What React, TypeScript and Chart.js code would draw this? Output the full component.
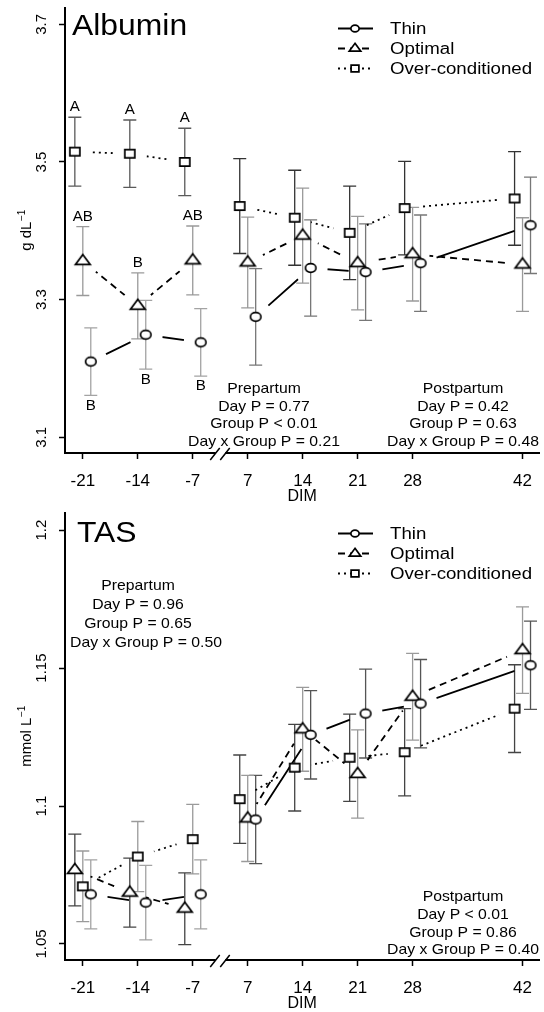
import React, { useEffect, useRef } from 'react';
import { Chart, registerables } from 'chart.js';

Chart.register(...registerables);

// ---------------- data ----------------
const DAYS = ['-21', '-14', '-7', '7', '14', '21', '28', '42'];
const DAY_SLOTS = [0, 1, 2, 3, 4, 5, 6, 8];
const GROUPS = ['Thin', 'Optimal', 'Over-conditioned'];

const ALB_THIN = [3.21, 3.249, 3.238, 3.275, 3.346, 3.34, 3.353, 3.408];
const ALB_THIN_SE = [0.049, 0.05, 0.049, 0.07, 0.07, 0.07, 0.07, 0.07];
const ALB_OPTIMAL = [3.356, 3.291, 3.357, 3.354, 3.393, 3.353, 3.366, 3.351];
const ALB_OPTIMAL_SE = [0.05, 0.048, 0.05, 0.066, 0.069, 0.068, 0.068, 0.068];
const ALB_OVER = [3.515, 3.512, 3.5, 3.436, 3.419, 3.397, 3.433, 3.447];
const ALB_OVER_SE = [0.05, 0.049, 0.049, 0.069, 0.069, 0.068, 0.068, 0.068];

const TAS_THIN = [1.068, 1.065, 1.068, 1.0951, 1.1258, 1.1335, 1.1371, 1.151];
const TAS_THIN_SE = [0.0125, 0.0135, 0.0125, 0.016, 0.016, 0.0161, 0.016, 0.016];
const TAS_OPTIMAL = [1.0768, 1.0686, 1.0628, 1.0955, 1.1278, 1.1116, 1.1396, 1.1565];
const TAS_OPTIMAL_SE = [0.013, 0.0125, 0.013, 0.0156, 0.0152, 0.016, 0.0157, 0.0157];
const TAS_OVER = [1.0709, 1.0817, 1.088, 1.1025, 1.1139, 1.1175, 1.1195, 1.1353];
const TAS_OVER_SE = [0.0128, 0.0127, 0.0126, 0.016, 0.0157, 0.0158, 0.0158, 0.0159];

const ALB_Y_TICKS = [3.1, 3.3, 3.5, 3.7];
const ALB_Y_LABELS = ['3.1', '3.3', '3.5', '3.7'];
const TAS_Y_TICKS = [1.05, 1.1, 1.15, 1.2];
const TAS_Y_LABELS = ['1.05', '1.1', '1.15', '1.2'];

const ALB_LETTERS_THIN = ['B', 'B', 'B'];
const ALB_LETTERS_OPTIMAL = ['AB', 'B', 'AB'];
const ALB_LETTERS_OVER = ['A', 'A', 'A'];

const ALB_PRE_STATS = ['Prepartum', 'Day P = 0.77', 'Group P < 0.01', 'Day x Group P = 0.21'];
const ALB_POST_STATS = ['Postpartum', 'Day P = 0.42', 'Group P = 0.63', 'Day x Group P = 0.48'];
const TAS_PRE_STATS = ['Prepartum', 'Day P = 0.96', 'Group P = 0.65', 'Day x Group P = 0.50'];
const TAS_POST_STATS = ['Postpartum', 'Day P < 0.01', 'Group P = 0.86', 'Day x Group P = 0.40'];

// ---------------- styling / layout ----------------
const FONT = '"Liberation Sans", Arial, Helvetica, sans-serif';
const SX = 1.08; // slight horizontal stretch of the reference text
const DODGE = 0.145;
const GAP = 17;
const CAP = 6.5;
const X_MIN = -0.324;
const X_MAX = 8.306;
const BREAK_AT = 2.5;

type Shape = 'circle' | 'triangle' | 'square';

interface SeriesCfg {
  name: string;
  values: number[];
  se: number[];
  shape: Shape;
  dash: number[];
  dodge: [number, number];
  bar: [string, string];
  letters?: string[];
  letterSide?: number;
}

interface StatsBlock { lines: string[]; xs: number[]; y0: number; dy: number }

interface PanelCfg {
  title: string;
  titleX: number;
  titleY: number;
  unit: string;
  unitSup: string;
  yMin: number;
  yMax: number;
  yTicks: number[];
  yLabels: string[];
  series: SeriesCfg[];
  stats: StatsBlock[];
}

const isPre = (j: number) => Number(DAYS[j]) < 0;

const ALB: PanelCfg = {
  title: 'Albumin', titleX: 72, titleY: 35,
  unit: 'g dL', unitSup: '\u22121',
  yMin: 3.0772, yMax: 3.7237, yTicks: ALB_Y_TICKS, yLabels: ALB_Y_LABELS,
  series: [
    { name: GROUPS[0], values: ALB_THIN, se: ALB_THIN_SE, shape: 'circle', dash: [], dodge: [1, 1], bar: ['#a3a3a3', '#777777'], letters: ALB_LETTERS_THIN, letterSide: -1 },
    { name: GROUPS[1], values: ALB_OPTIMAL, se: ALB_OPTIMAL_SE, shape: 'triangle', dash: [7, 5], dodge: [0, 0], bar: ['#9a9a9a', '#9a9a9a'], letters: ALB_LETTERS_OPTIMAL, letterSide: 1 },
    { name: GROUPS[2], values: ALB_OVER, se: ALB_OVER_SE, shape: 'square', dash: [2, 4], dodge: [-1, -1], bar: ['#5a5a5a', '#333333'], letters: ALB_LETTERS_OVER, letterSide: 1 },
  ],
  stats: [
    { lines: ALB_PRE_STATS, xs: [264, 264, 264, 264], y0: 389.3, dy: 17.4 },
    { lines: ALB_POST_STATS, xs: [463, 463, 463, 463], y0: 389.3, dy: 17.4 },
  ],
};

const TAS: PanelCfg = {
  title: 'TAS', titleX: 77, titleY: 36.7,
  unit: 'mmol L', unitSup: '\u22121',
  yMin: 1.0442, yMax: 1.2062, yTicks: TAS_Y_TICKS, yLabels: TAS_Y_LABELS,
  series: [
    { name: GROUPS[0], values: TAS_THIN, se: TAS_THIN_SE, shape: 'circle', dash: [], dodge: [1, 1], bar: ['#a3a3a3', '#555555'] },
    { name: GROUPS[1], values: TAS_OPTIMAL, se: TAS_OPTIMAL_SE, shape: 'triangle', dash: [7, 5], dodge: [-1, 0], bar: ['#444444', '#9a9a9a'] },
    { name: GROUPS[2], values: TAS_OVER, se: TAS_OVER_SE, shape: 'square', dash: [2, 4], dodge: [0, -1], bar: ['#9a9a9a', '#444444'] },
  ],
  stats: [
    { lines: TAS_PRE_STATS, xs: [138, 138, 138, 146], y0: 80.7, dy: 19.2 },
    { lines: TAS_POST_STATS, xs: [463, 463, 463, 463], y0: 392.3, dy: 17.6 },
  ],
};

// ---------------- drawing helpers ----------------
function pathMarker(ctx: CanvasRenderingContext2D, shape: Shape, cx: number, cy: number, s: number) {
  ctx.beginPath();
  if (shape === 'circle') {
    ctx.ellipse(cx, cy, 5.3 * s, 4.3 * s, 0, 0, Math.PI * 2);
  } else if (shape === 'triangle') {
    ctx.moveTo(cx, cy - 6.6 * s);
    ctx.lineTo(cx + 7.4 * s, cy + 3.4 * s);
    ctx.lineTo(cx - 7.4 * s, cy + 3.4 * s);
    ctx.closePath();
  } else {
    ctx.rect(cx - 5 * s, cy - 4.2 * s, 10 * s, 8.4 * s);
  }
}

function drawMarker(ctx: CanvasRenderingContext2D, shape: Shape, cx: number, cy: number, s: number) {
  ctx.save();
  pathMarker(ctx, shape, cx, cy, s);
  ctx.fillStyle = '#ffffff';
  ctx.fill();
  ctx.lineWidth = 1.7;
  ctx.lineJoin = 'miter';
  ctx.strokeStyle = '#000000';
  ctx.setLineDash([]);
  ctx.stroke();
  ctx.restore();
}

function makeMarker(shape: Shape): HTMLCanvasElement {
  const c = document.createElement('canvas');
  c.width = 20;
  c.height = 18;
  const ctx = c.getContext('2d')!;
  drawMarker(ctx, shape, 10, 9, 1);
  return c;
}

function text(ctx: CanvasRenderingContext2D, str: string, x: number, y: number, size: number,
  align: CanvasTextAlign = 'left', baseline: CanvasTextBaseline = 'alphabetic') {
  ctx.save();
  ctx.translate(x, y);
  ctx.scale(SX, 1);
  ctx.font = `${size}px ${FONT}`;
  ctx.textAlign = align;
  ctx.textBaseline = baseline;
  ctx.fillStyle = '#000000';
  ctx.fillText(str, 0, 0);
  ctx.restore();
}

const LEG_X0 = 338;
const LEG_X1 = 373;
const LEG_MX = 355;
const LEG_TX = 390;
const LEG_Y = [28.5, 48.5, 68.5];

function makePlugin(cfg: PanelCfg) {
  const n = cfg.series.length;
  return {
    id: 'panelDecor',
    beforeDatasetsDraw(chart: any) {
      const ctx: CanvasRenderingContext2D = chart.ctx;
      const ys = chart.scales.y;
      cfg.series.forEach((s, si) => {
        const meta = chart.getDatasetMeta(si);
        meta.data.forEach((el: any, j: number) => {
          const v = s.values[j];
          const e = s.se[j];
          const x = el.x;
          const yt = ys.getPixelForValue(v + e);
          const yb = ys.getPixelForValue(v - e);
          ctx.save();
          ctx.strokeStyle = isPre(j) ? s.bar[0] : s.bar[1];
          ctx.lineWidth = 1.3;
          ctx.beginPath();
          ctx.moveTo(x, yt); ctx.lineTo(x, yb);
          ctx.moveTo(x - CAP, yt); ctx.lineTo(x + CAP, yt);
          ctx.moveTo(x - CAP, yb); ctx.lineTo(x + CAP, yb);
          ctx.stroke();
          ctx.restore();
        });
      });
    },
    beforeDatasetDraw(chart: any, args: any) {
      if (args.index < n) return;
      const ctx: CanvasRenderingContext2D = chart.ctx;
      ctx.save();
      ctx.beginPath();
      ctx.rect(0, 0, chart.width, chart.height);
      args.meta.data.forEach((el: any) => {
        if (el.skip) return;
        ctx.moveTo(el.x + GAP, el.y);
        ctx.arc(el.x, el.y, GAP, 0, Math.PI * 2);
      });
      ctx.clip('evenodd');
    },
    afterDatasetDraw(chart: any, args: any) {
      if (args.index >= n) chart.ctx.restore();
    },
    afterDraw(chart: any) {
      const ctx: CanvasRenderingContext2D = chart.ctx;
      const xs = chart.scales.x;
      const ys = chart.scales.y;
      const area = chart.chartArea;

      // axis break
      const bx = xs.getPixelForValue(BREAK_AT);
      const by = area.bottom;
      ctx.save();
      ctx.fillStyle = '#ffffff';
      ctx.fillRect(bx - 4.5, by - 2.5, 9.5, 5);
      ctx.strokeStyle = '#000000';
      ctx.lineWidth = 1.5;
      ctx.beginPath();
      ctx.moveTo(bx - 10, by + 7); ctx.lineTo(bx - 0.5, by - 5);
      ctx.moveTo(bx, by + 7); ctx.lineTo(bx + 9.5, by - 5);
      ctx.stroke();
      ctx.restore();

      // y tick labels (rotated)
      cfg.yTicks.forEach((t, k) => {
        const py = ys.getPixelForValue(t);
        ctx.save();
        ctx.translate(42, py);
        ctx.rotate(-Math.PI / 2);
        ctx.font = `15px ${FONT}`;
        ctx.textAlign = 'center';
        ctx.textBaseline = 'middle';
        ctx.fillStyle = '#000000';
        ctx.fillText(cfg.yLabels[k], 0, 0);
        ctx.restore();
      });

      // y unit label with superscript
      ctx.save();
      ctx.translate(31, (area.top + area.bottom) / 2);
      ctx.rotate(-Math.PI / 2);
      ctx.fillStyle = '#000000';
      ctx.font = `15px ${FONT}`;
      const w1 = ctx.measureText(cfg.unit).width;
      ctx.font = `10px ${FONT}`;
      const w2 = ctx.measureText(cfg.unitSup).width;
      const start = -(w1 + w2) / 2;
      ctx.font = `15px ${FONT}`;
      ctx.textBaseline = 'alphabetic';
      ctx.fillText(cfg.unit, start, 0);
      ctx.font = `10px ${FONT}`;
      ctx.fillText(cfg.unitSup, start + w1 + 0.5, -6);
      ctx.restore();

      // title
      text(ctx, cfg.title, cfg.titleX, cfg.titleY, 29.5, 'left', 'alphabetic');

      // legend
      cfg.series.forEach((s, k) => {
        const y = LEG_Y[k];
        ctx.save();
        ctx.strokeStyle = '#000000';
        ctx.lineWidth = 1.8;
        ctx.setLineDash(s.dash);
        ctx.beginPath();
        ctx.moveTo(LEG_X0, y);
        ctx.lineTo(LEG_X1, y);
        ctx.stroke();
        ctx.restore();
        drawMarker(ctx, s.shape, LEG_MX, y, 0.78);
        text(ctx, s.name, LEG_TX, y + 1, 17.3, 'left', 'middle');
      });

      // significance letters
      cfg.series.forEach((s, si) => {
        if (!s.letters) return;
        const meta = chart.getDatasetMeta(si);
        s.letters.forEach((L, j) => {
          const el = meta.data[j];
          const v = s.values[j];
          const e = s.se[j];
          const y = (s.letterSide || 1) > 0
            ? ys.getPixelForValue(v + e) - 10
            : ys.getPixelForValue(v - e) + 10.5;
          text(ctx, L, el.x, y, 14, 'center', 'middle');
        });
      });

      // stats blocks
      cfg.stats.forEach((b) => {
        b.lines.forEach((line, k) => {
          text(ctx, line, b.xs[k], b.y0 + k * b.dy, 14.6, 'center', 'middle');
        });
      });
    },
  };
}

function buildDatasets(cfg: PanelCfg, markers: Record<Shape, HTMLCanvasElement>) {
  const ds: any[] = [];
  const xOf = (s: SeriesCfg, j: number) => DAY_SLOTS[j] + (isPre(j) ? s.dodge[0] : s.dodge[1]) * DODGE;
  cfg.series.forEach((s) => {
    ds.push({
      label: s.name,
      data: s.values.map((v, j) => ({ x: xOf(s, j), y: v })),
      showLine: false,
      pointStyle: markers[s.shape],
      pointRadius: 6,
      pointHoverRadius: 6,
      pointHitRadius: 0,
      borderColor: '#000000',
      backgroundColor: '#ffffff',
      clip: false,
      order: 0,
    });
  });
  cfg.series.forEach((s) => {
    const pts: any[] = [];
    s.values.forEach((v, j) => {
      if (j > 0 && isPre(j - 1) !== isPre(j)) pts.push({ x: BREAK_AT, y: null });
      pts.push({ x: xOf(s, j), y: v });
    });
    ds.push({
      label: s.name + ' line',
      data: pts,
      showLine: true,
      spanGaps: false,
      borderColor: '#000000',
      borderWidth: 1.8,
      borderDash: s.dash,
      borderCapStyle: 'butt',
      pointRadius: 0,
      pointHoverRadius: 0,
      pointHitRadius: 0,
      fill: false,
      tension: 0,
      order: 1,
    });
  });
  return ds;
}

const axisGrid = {
  display: true,
  drawOnChartArea: false,
  drawTicks: true,
  tickLength: 6,
  tickColor: '#000000',
  tickWidth: 1.5,
  color: '#000000',
};
const axisBorder = { display: true, color: '#000000', width: 2 };

function Panel({ cfg, top, height }: { cfg: PanelCfg; top: number; height: number }) {
  const ref = useRef<HTMLCanvasElement>(null);
  useEffect(() => {
    const markers: Record<Shape, HTMLCanvasElement> = {
      circle: makeMarker('circle'),
      triangle: makeMarker('triangle'),
      square: makeMarker('square'),
    };
    const chart = new Chart(ref.current!, {
      type: 'line',
      data: { datasets: buildDatasets(cfg, markers) },
      options: {
        responsive: false,
        devicePixelRatio: 1,
        animation: false,
        events: [],
        layout: { padding: { top: 8, left: 0, right: 0, bottom: 0 }, autoPadding: false },
        plugins: { legend: { display: false }, tooltip: { enabled: false }, title: { display: false } },
        scales: {
          x: {
            type: 'linear',
            min: X_MIN,
            max: X_MAX,
            afterBuildTicks: (s: any) => { s.ticks = DAY_SLOTS.map((v) => ({ value: v })); },
            afterFit: (s: any) => { s.height = 52; },
            ticks: {
              callback: (_v: any, i: number) => DAYS[i],
              font: { family: FONT, size: 17 },
              color: '#000000',
              padding: 12,
              maxRotation: 0,
              minRotation: 0,
              autoSkip: false,
            },
            grid: axisGrid,
            border: axisBorder,
            title: {
              display: true,
              text: 'DIM',
              font: { family: FONT, size: 16 },
              color: '#000000',
              padding: { top: 0, bottom: -1.5 },
            },
          },
          y: {
            type: 'linear',
            min: cfg.yMin,
            max: cfg.yMax,
            afterBuildTicks: (s: any) => { s.ticks = cfg.yTicks.map((v) => ({ value: v })); },
            afterFit: (s: any) => { s.width = 65; },
            ticks: { display: false },
            grid: axisGrid,
            border: axisBorder,
          },
        },
      } as any,
      plugins: [makePlugin(cfg)],
    });
    return () => chart.destroy();
  }, [cfg]);
  return (
    <div style={{ position: 'absolute', left: 0, top, width: 544, height }}>
      <canvas ref={ref} width={544} height={height} style={{ display: 'block', width: 544, height }} />
    </div>
  );
}

export default function App() {
  return (
    <div style={{ position: 'absolute', left: 0, top: 0, width: 544, height: 1012, background: '#ffffff' }}>
      <Panel cfg={ALB} top={0} height={505} />
      <Panel cfg={TAS} top={505} height={507} />
    </div>
  );
}
